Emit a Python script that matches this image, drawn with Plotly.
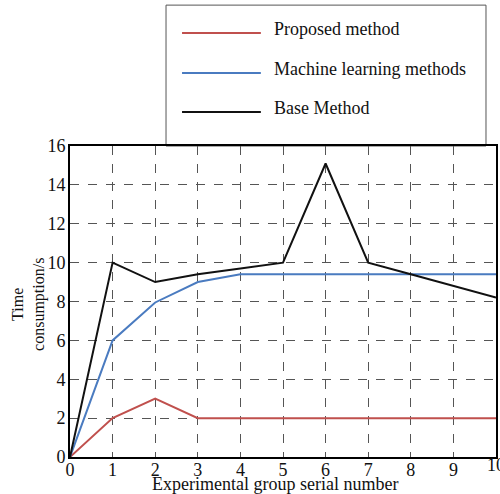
import plotly.graph_objects as go

groups = [0, 1, 2, 3, 4, 5, 6, 7, 8, 9, 10]
proposed = [0, 2, 3, 2, 2, 2, 2, 2, 2, 2, 2]
machine_learning = [0, 6, 7.95, 9, 9.4, 9.4, 9.4, 9.4, 9.4, 9.4, 9.4]
base_method = [0, 10, 9, 9.4, 9.7, 10, 15.1, 10, 9.4, 8.8, 8.2]
y_ticks = [0, 2, 4, 6, 8, 10, 12, 14, 16]

series_names = ["Proposed method", "Machine learning methods", "Base Method"]
series_colors = ["#C0504D", "#4A7BC0", "#111111"]
series_values = [proposed, machine_learning, base_method]

FONT = "Liberation Serif"

fig = go.Figure()
for name, color, vals in zip(series_names, series_colors, series_values):
    fig.add_trace(go.Scatter(x=groups, y=vals, mode="lines", name=name,
                             line=dict(color=color, width=2), showlegend=False))

# Manual legend box (paper coordinates)
fig.add_shape(type="rect", xref="paper", yref="paper", x0=0.2254, x1=0.9765, y0=1.0, y1=1.453,
              line=dict(color="#555555", width=1), fillcolor="white", layer="below")
rows = [1.363, 1.235, 1.109]
for name, color, yy in zip(series_names, series_colors, rows):
    fig.add_shape(type="line", xref="paper", yref="paper", x0=0.263, x1=0.448, y0=yy, y1=yy,
                  line=dict(color=color, width=2))
    fig.add_annotation(xref="paper", yref="paper", x=0.474, y=yy + 0.012, text=name, showarrow=False,
                       xanchor="left", yanchor="middle", font=dict(family=FONT, size=18, color="#111"))

# Axis titles as annotations
fig.add_annotation(xref="paper", yref="paper", x=0.482, y=-0.088, text="Experimental group serial number",
                   showarrow=False, xanchor="center", yanchor="middle",
                   font=dict(family=FONT, size=18, color="#111"))
fig.add_annotation(xref="paper", yref="paper", x=-0.0962, y=0.489, text="Time<br>consumption/s",
                   showarrow=False, xanchor="center", yanchor="middle", textangle=-90,
                   font=dict(family=FONT, size=16, color="#111"))
# last x tick label (clipped at the page edge as in the reference)
fig.add_annotation(xref="x", yref="paper", x=groups[-1], y=-0.026, text=str(groups[-1]),
                   showarrow=False, xanchor="center", yanchor="middle",
                   font=dict(family=FONT, size=18, color="#111"))

fig.update_layout(
    width=500, height=494,
    margin=dict(l=70, r=4, t=146, b=37),
    paper_bgcolor="white", plot_bgcolor="white",
    font=dict(family=FONT, size=18, color="#111"),
)
fig.update_xaxes(range=[0, 10], tickvals=groups[:-1], ticks="", showline=True, linecolor="black", linewidth=2,
                 mirror=True, showgrid=True, gridcolor="#555555", griddash="dash", gridwidth=1,
                 zeroline=False, tickfont=dict(size=18), ticklabelstandoff=-5, automargin=False)
fig.update_yaxes(range=[0, 16], tickvals=y_ticks, ticks="", showline=True,
                 linecolor="black", linewidth=2, mirror=True, showgrid=True, gridcolor="#555555",
                 griddash="dash", gridwidth=1, zeroline=False, tickfont=dict(size=18), ticklabelstandoff=-1,
                 automargin=False)

fig.write_html("out.html", config={"displayModeBar": False},
               post_script="document.body.style.margin='0';document.body.style.overflow='hidden';")
